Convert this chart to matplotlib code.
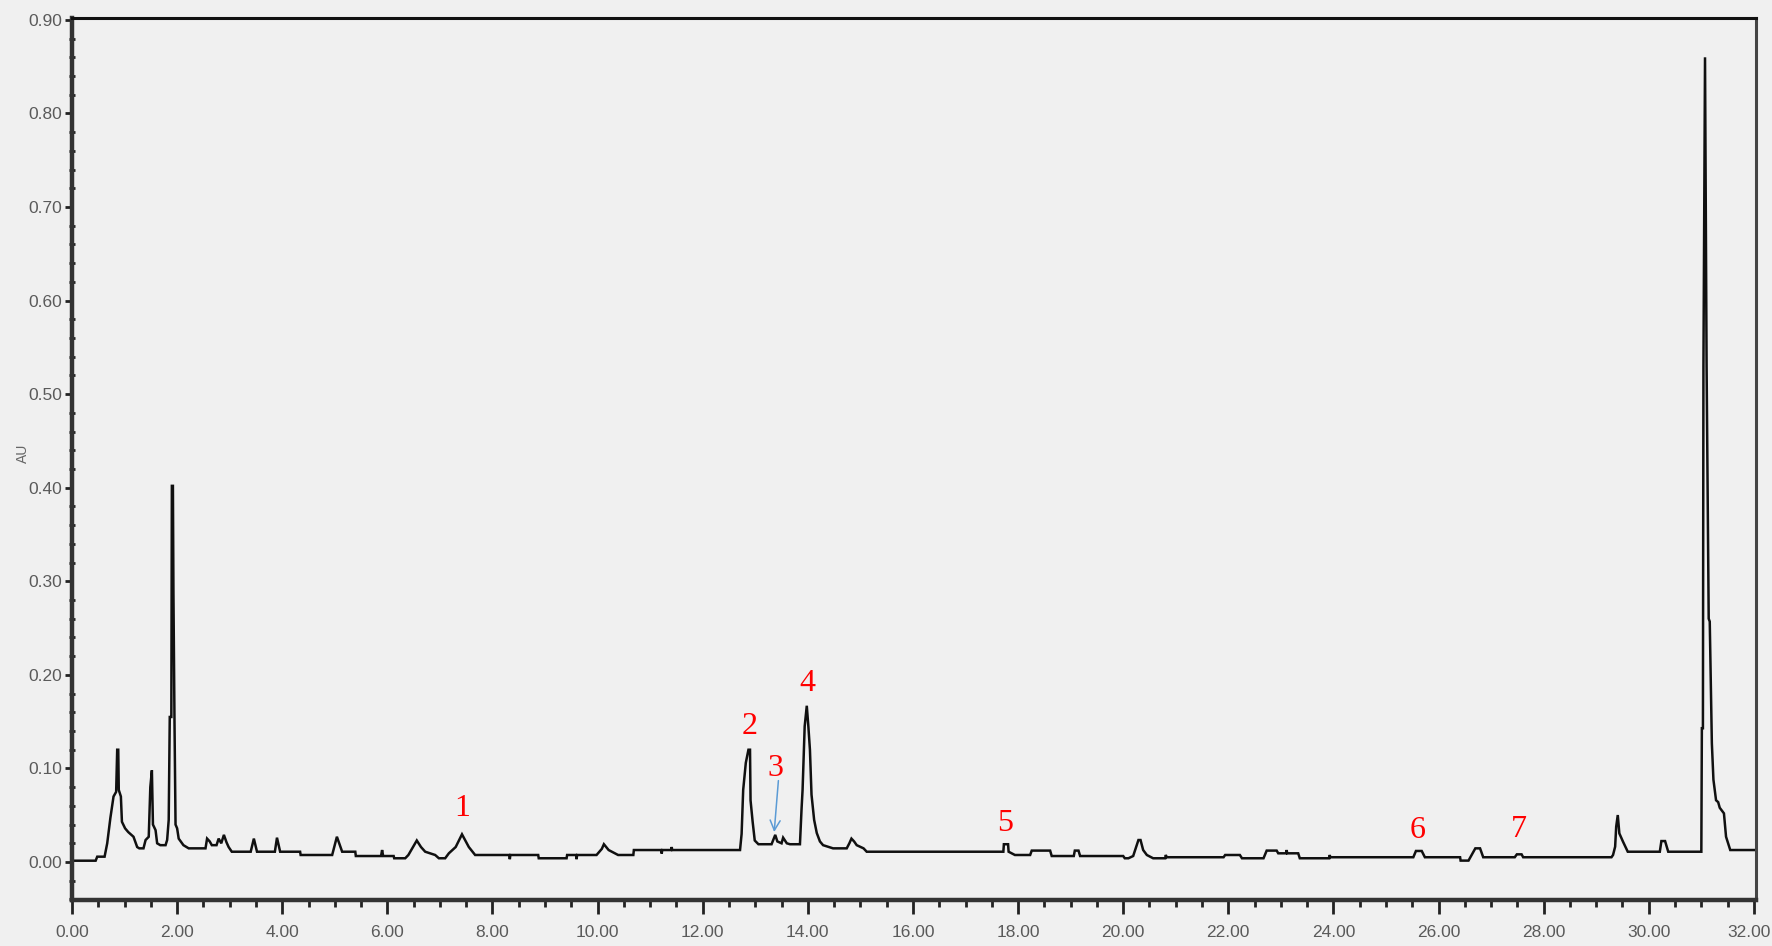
import matplotlib
matplotlib.use("Agg")
import matplotlib.pyplot as plt
import matplotlib.transforms as mtransforms
from matplotlib import font_manager
from matplotlib.ticker import MultipleLocator, FormatStrFormatter

# ---------------- data (time in min, absorbance in AU) ----------------
trace_0_to_2_5 = [
    (0.00, 0.0014), (0.45, 0.0014), (0.48, 0.0057), (0.62, 0.0057), (0.67, 0.020),
    (0.73, 0.047), (0.79, 0.070), (0.84, 0.075), (0.86, 0.120), (0.88, 0.120),
    (0.89, 0.077), (0.93, 0.070), (0.95, 0.043), (1.01, 0.036), (1.07, 0.032),
    (1.17, 0.027), (1.24, 0.016), (1.28, 0.0146), (1.36, 0.0146), (1.40, 0.0235),
    (1.46, 0.027), (1.49, 0.080), (1.52, 0.098), (1.54, 0.040), (1.59, 0.034),
    (1.62, 0.020), (1.68, 0.018), (1.78, 0.018), (1.81, 0.0235), (1.84, 0.045),
    (1.86, 0.155), (1.89, 0.155), (1.90, 0.402), (1.92, 0.402), (1.93, 0.288),
    (1.95, 0.150), (1.97, 0.040), (2.00, 0.036), (2.03, 0.025), (2.12, 0.018),
    (2.22, 0.0146), (2.54, 0.0146),
]
trace_2_5_to_8 = [
    (2.57, 0.025), (2.62, 0.022), (2.66, 0.018), (2.75, 0.018), (2.79, 0.025),
    (2.84, 0.020), (2.89, 0.029), (2.94, 0.021), (2.98, 0.016), (3.04, 0.011),
    (3.40, 0.011), (3.46, 0.025), (3.52, 0.011), (3.86, 0.011), (3.90, 0.026),
    (3.96, 0.011), (4.34, 0.011), (4.35, 0.0075), (4.95, 0.0075), (5.04, 0.027),
    (5.14, 0.011), (5.39, 0.011), (5.40, 0.0064), (5.88, 0.0064), (5.90, 0.0128),
    (5.92, 0.0064), (6.12, 0.0064), (6.13, 0.004), (6.34, 0.004), (6.40, 0.0075),
    (6.56, 0.023), (6.64, 0.016), (6.72, 0.011), (6.91, 0.0075), (6.98, 0.004),
    (7.10, 0.004), (7.17, 0.0093), (7.30, 0.016), (7.42, 0.0296), (7.55, 0.016),
    (7.67, 0.0075),
]
trace_8_to_16 = [
    (8.32, 0.0075), (8.33, 0.003), (8.34, 0.0075), (8.87, 0.0075), (8.88, 0.004),
    (9.41, 0.004), (9.42, 0.0075), (9.59, 0.0075), (9.60, 0.003), (9.61, 0.0075),
    (9.98, 0.0075), (10.08, 0.014), (10.12, 0.019), (10.21, 0.0128), (10.39, 0.0075),
    (10.68, 0.0075), (10.69, 0.0128), (11.21, 0.0128), (11.22, 0.009), (11.23, 0.0128),
    (11.40, 0.0128), (11.41, 0.016), (11.42, 0.0128), (12.71, 0.0128), (12.74, 0.030),
    (12.77, 0.077), (12.82, 0.106), (12.87, 0.120), (12.90, 0.120), (12.91, 0.066),
    (12.95, 0.043), (12.99, 0.023), (13.06, 0.019), (13.31, 0.019), (13.38, 0.029),
    (13.42, 0.022), (13.50, 0.020), (13.53, 0.026), (13.60, 0.020), (13.66, 0.019),
    (13.85, 0.019), (13.88, 0.056), (13.90, 0.077), (13.94, 0.145), (13.98, 0.167),
    (14.01, 0.145), (14.04, 0.120), (14.07, 0.072), (14.12, 0.045), (14.17, 0.031),
    (14.23, 0.022), (14.29, 0.018), (14.48, 0.0146), (14.74, 0.0146), (14.79, 0.020),
    (14.83, 0.025), (14.88, 0.022), (14.93, 0.018), (15.06, 0.0146), (15.12, 0.011),
]
trace_16_to_24 = [
    (17.72, 0.011), (17.73, 0.019), (17.81, 0.019), (17.82, 0.011), (17.94, 0.0075),
    (18.23, 0.0075), (18.26, 0.0122), (18.61, 0.0122), (18.64, 0.0064), (19.06, 0.0064),
    (19.08, 0.0122), (19.15, 0.0122), (19.18, 0.0064), (20.00, 0.0064), (20.03, 0.004),
    (20.10, 0.004), (20.19, 0.0064), (20.29, 0.0235), (20.33, 0.0235), (20.38, 0.0128),
    (20.45, 0.0075), (20.57, 0.004), (20.80, 0.004), (20.81, 0.0075), (20.83, 0.0051),
    (21.91, 0.0051), (21.94, 0.0075), (22.22, 0.0075), (22.26, 0.004), (22.67, 0.004),
    (22.73, 0.0122), (22.92, 0.0122), (22.95, 0.0093), (23.10, 0.0093), (23.11, 0.0128),
    (23.12, 0.0093), (23.33, 0.0093), (23.36, 0.004), (23.92, 0.004), (23.93, 0.0075),
    (23.94, 0.0051),
]
trace_24_to_32 = [
    (25.52, 0.0051), (25.57, 0.0118), (25.68, 0.0118), (25.74, 0.0051), (26.41, 0.0051),
    (26.42, 0.0015), (26.57, 0.0015), (26.63, 0.0075), (26.70, 0.0146), (26.79, 0.0146),
    (26.85, 0.0051), (27.45, 0.0051), (27.49, 0.0082), (27.58, 0.0082), (27.61, 0.0051),
    (29.29, 0.0051), (29.32, 0.0075), (29.36, 0.0164), (29.38, 0.0378), (29.41, 0.0502),
    (29.44, 0.0306), (29.51, 0.0217), (29.60, 0.011), (30.21, 0.011), (30.24, 0.0224),
    (30.31, 0.0224), (30.37, 0.011), (31.00, 0.011), (31.00, 0.0128), (31.01, 0.143),
    (31.03, 0.143), (31.04, 0.53), (31.07, 0.86), (31.10, 0.53), (31.12, 0.40),
    (31.14, 0.26), (31.16, 0.257), (31.20, 0.127), (31.23, 0.088), (31.28, 0.066),
    (31.32, 0.064), (31.35, 0.058), (31.43, 0.052), (31.47, 0.027), (31.55, 0.0128),
    (32.00, 0.0128),
]

peak_labels = ["1", "2", "3", "4", "5", "6", "7"]
peak_label_time = [7.42, 12.89, 13.39, 13.99, 17.75, 25.60, 27.52]
peak_label_au = [0.057, 0.145, 0.100, 0.191, 0.041, 0.034, 0.035]

x_ticks = [0, 2, 4, 6, 8, 10, 12, 14, 16, 18, 20, 22, 24, 26, 28, 30, 32]
y_ticks = [0.0, 0.1, 0.2, 0.3, 0.4, 0.5, 0.6, 0.7, 0.8, 0.9]
y_label = "AU"

trace = trace_0_to_2_5 + trace_2_5_to_8 + trace_8_to_16 + trace_16_to_24 + trace_24_to_32
time_min = [p[0] for p in trace]
absorbance_au = [p[1] for p in trace]

# ---------------- fonts ----------------
available = {f.name for f in font_manager.fontManager.ttflist}
tick_family = "Liberation Sans Narrow" if "Liberation Sans Narrow" in available else "Liberation Sans"

# ---------------- figure ----------------
BG = "#f0f0f0"
fig = plt.figure(figsize=(17.72, 9.46), dpi=100, facecolor=BG)
ax = fig.add_axes([72 / 1772, 1 - 900 / 946, (1756 - 72) / 1772, (900 - 18) / 946])
ax.set_facecolor(BG)

ax.plot(time_min, absorbance_au, color="#101010", lw=1.8, solid_joinstyle="miter")

ax.set_xlim(0, 32.04)
ax.set_ylim(-0.0406, 0.902)

ax.xaxis.set_major_locator(plt.FixedLocator(x_ticks))
ax.yaxis.set_major_locator(plt.FixedLocator(y_ticks))
ax.xaxis.set_minor_locator(MultipleLocator(0.5))
ax.yaxis.set_minor_locator(MultipleLocator(0.02))
ax.xaxis.set_major_formatter(FormatStrFormatter("%.2f"))
ax.yaxis.set_major_formatter(FormatStrFormatter("%.2f"))

ax.tick_params(axis="x", which="major", direction="out", length=10, width=2,
               color="#222222", pad=8, labelsize=12.5, labelcolor="#5a5a5a")
ax.tick_params(axis="x", which="minor", direction="out", length=5, width=2, color="#222222")
ax.tick_params(axis="y", which="major", direction="out", length=5, width=2,
               color="#222222", pad=2, labelsize=12.5, labelcolor="#5a5a5a")
ax.tick_params(axis="y", which="minor", direction="inout", length=4, width=2, color="#222222")
for lab in ax.get_xticklabels() + ax.get_yticklabels():
    lab.set_family(tick_family)

# last x label sits against the right edge of the image, as in the reference
fig.canvas.draw()
last = ax.get_xticklabels()[-1]
last.set_horizontalalignment("right")
last.set_transform(last.get_transform() +
                   mtransforms.ScaledTranslation(17 / 100, 0, fig.dpi_scale_trans))

ax.spines["left"].set_linewidth(3.2)
ax.spines["left"].set_color("#333333")
ax.spines["bottom"].set_linewidth(3.2)
ax.spines["bottom"].set_color("#333333")
ax.spines["top"].set_linewidth(2.2)
ax.spines["top"].set_color("#111111")
ax.spines["right"].set_linewidth(2.2)
ax.spines["right"].set_color("#444444")

fig.text(23 / 1772, 1 - 453 / 946, y_label, rotation=90, ha="center", va="center",
         fontsize=10, color="#666666", family=tick_family)

for lab, t, a in zip(peak_labels, peak_label_time, peak_label_au):
    ax.text(t, a, lab, color="red", fontsize=23, family="Liberation Serif",
            ha="center", va="center")

ax.annotate("", xy=(13.36, 0.032), xytext=(13.44, 0.087),
            arrowprops=dict(arrowstyle="->", color="#5b9bd5", lw=1.1,
                            mutation_scale=18, shrinkA=0, shrinkB=0))

fig.savefig("out.png", dpi=100, facecolor=BG)
